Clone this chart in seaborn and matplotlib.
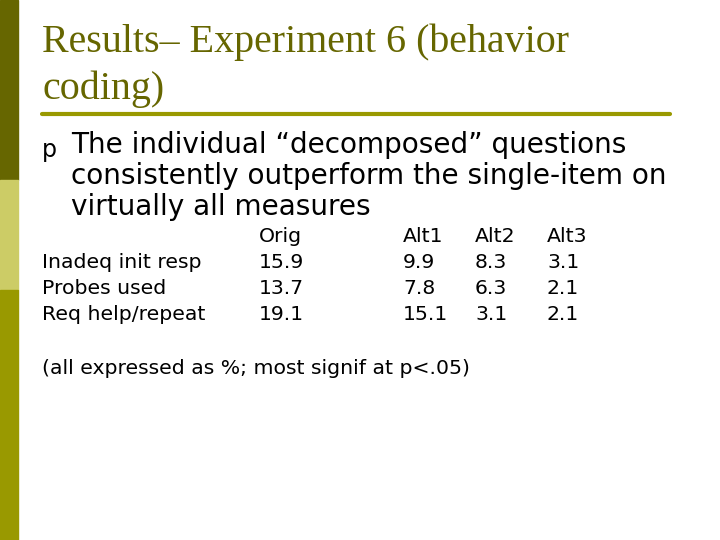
import matplotlib
matplotlib.use("Agg")
import matplotlib.pyplot as plt
import seaborn as sns
from matplotlib.patches import Rectangle
from matplotlib.lines import Line2D

sns.set_theme(style="white")
plt.rcParams['font.family'] = ['DejaVu Sans']
plt.rcParams['text.color'] = 'black'

columns = ["Orig", "Alt1", "Alt2", "Alt3"]
measures = ["Inadeq init resp", "Probes used", "Req help/repeat"]
orig = [15.9, 13.7, 19.1]
alt1 = [9.9, 7.8, 15.1]
alt2 = [8.3, 6.3, 3.1]
alt3 = [3.1, 2.1, 2.1]

W, H = 720, 540
fig = plt.figure(figsize=(7.2, 5.4), dpi=100)
fig.patch.set_facecolor("white")

def fx(x): return x / W
def fy(y): return 1 - y / H

fig.patches.append(Rectangle((0, fy(180)), fx(18), 180 / H, transform=fig.transFigure, color="#666600"))
fig.patches.append(Rectangle((0, fy(290)), fx(18), 110 / H, transform=fig.transFigure, color="#cccc66"))
fig.patches.append(Rectangle((0, 0), fx(18), 250 / H, transform=fig.transFigure, color="#999900"))
fig.lines.append(Line2D([fx(42), fx(670)], [fy(114), fy(114)], transform=fig.transFigure, color="#999900", lw=3))

title_kw = dict(family="Liberation Serif", fontsize=28.8, color="#666600", va="baseline")
fig.text(fx(42), fy(52), "Results– Experiment 6 (behavior", **title_kw)
fig.text(fx(42), fy(99), "coding)", **title_kw)

fig.text(fx(42), fy(150), "p", fontsize=17, color="black", va="center")
body = ["The individual “decomposed” questions",
        "consistently outperform the single-item on",
        "virtually all measures"]
for i, line in enumerate(body):
    fig.text(fx(71), fy(145 + 31 * i), line, fontsize=20.1, color="black", va="center")

colx = [259, 403, 475, 547]
for x, c in zip(colx, columns):
    fig.text(fx(x), fy(237), c, fontsize=14.7, va="center", color="black")
vals = [orig, alt1, alt2, alt3]
for r, m in enumerate(measures):
    y = 262 + 26.5 * r
    fig.text(fx(42), fy(y), m, fontsize=14.7, va="center", color="black")
    for x, col in zip(colx, vals):
        fig.text(fx(x), fy(y), f"{col[r]:.1f}", fontsize=14.7, va="center", color="black")

fig.text(fx(42), fy(368), "(all expressed as %; most signif at p<.05)", fontsize=14.7, va="center", color="black")

fig.savefig("out.png", dpi=100)
